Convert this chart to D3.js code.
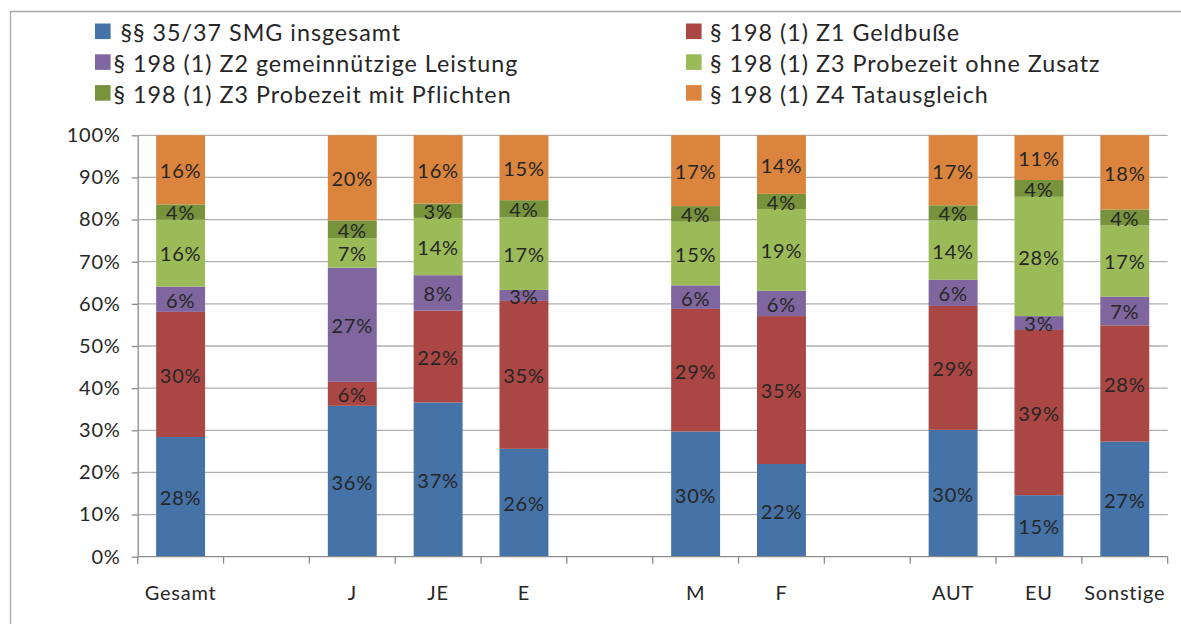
<!DOCTYPE html>
<html>
<head>
<meta charset="utf-8">
<script src="https://cdn.jsdelivr.net/npm/d3@7"></script>
<style>
  body { margin: 0; background: #fff; }
  svg text { font-family: Lato, "Open Sans", sans-serif; fill: #262626; }
</style>
</head>
<body>
<svg id="chart" width="1181" height="624"></svg>
<script>
// categories, empty strings are the gaps between the groups
var categories = ["Gesamt", "", "J", "JE", "E", "", "M", "F", "", "AUT", "EU", "Sonstige"];

var seriesNames = [
    " §§ 35/37 SMG insgesamt",
    "§ 198 (1) Z1 Geldbuße",
    "§ 198 (1) Z2 gemeinnützige Leistung",
    "§ 198 (1) Z3 Probezeit ohne Zusatz",
    "§ 198 (1) Z3 Probezeit mit Pflichten",
    "§ 198 (1) Z4 Tatausgleich"
];

// percent shares per category (null = gap)
var smg       = [28.4, null, 35.8, 36.6, 25.6, null, 29.7, 22.0, null, 30.1, 14.6, 27.3];
var geldbusse = [29.7, null,  5.7, 21.8, 35.1, null, 29.1, 35.1, null, 29.4, 39.2, 27.6];
var gemeinn   = [ 6.0, null, 27.1,  8.4,  2.6, null,  5.6,  6.0, null,  6.2,  3.3,  6.8];
var probeOhne = [15.9, null,  7.0, 13.6, 17.2, null, 15.1, 19.4, null, 14.1, 28.3, 16.9];
var probeMit  = [ 3.6, null,  4.2,  3.4,  4.1, null,  3.7,  3.6, null,  3.6,  4.0,  3.8];
var tataus    = [16.4, null, 20.2, 16.2, 15.4, null, 16.8, 13.9, null, 16.6, 10.6, 17.6];

var yTicks = [0, 0.1, 0.2, 0.3, 0.4, 0.5, 0.6, 0.7, 0.8, 0.9, 1];

var colors = ["#4572a7", "#aa4643", "#80669e", "#9bbb59", "#77933c", "#db843d"];

var allSeries = [smg, geldbusse, gemeinn, probeOhne, probeMit, tataus];

function drawChart()
{
    var svg = d3.select("#chart");

    var plotLeft = 137.7, plotRight = 1167.7, plotTop = 135.3, plotBottom = 556.7;

    // outer chart frame, cut off at the right and bottom edge
    svg.append("path")
        .attr("d", "M10.5,700 L10.5,11.5 L1300,11.5")
        .attr("fill", "none").attr("stroke", "#a6a6a6").attr("stroke-width", 1.3);

    var x = d3.scaleBand()
        .domain(d3.range(categories.length))
        .range([plotLeft, plotRight])
        .paddingInner(0.43)
        .paddingOuter(0.215);

    var y = d3.scaleLinear().domain([0, 1]).range([plotBottom, plotTop]);

    // gridlines
    svg.append("g").selectAll("line")
        .data(yTicks.slice(1))
        .join("line")
        .attr("x1", plotLeft).attr("x2", plotRight)
        .attr("y1", d => y(d)).attr("y2", d => y(d))
        .attr("stroke", "#b0b0b0").attr("stroke-width", 1.3);

    // stack
    var rows = categories.map((c, i) => {
        var r = { idx: i, gap: allSeries[0][i] === null };
        allSeries.forEach((s, k) => r["s" + k] = (s[i] || 0) / 100);
        return r;
    });

    var stack = d3.stack().keys(d3.range(allSeries.length).map(k => "s" + k));
    var stacked = stack(rows.filter(r => !r.gap));

    var layers = svg.append("g").selectAll("g")
        .data(stacked)
        .join("g")
        .attr("fill", (d, i) => colors[i]);

    layers.selectAll("rect")
        .data(d => d)
        .join("rect")
        .attr("x", d => x(d.data.idx))
        .attr("width", x.bandwidth())
        .attr("y", d => y(d[1]))
        .attr("height", d => y(d[0]) - y(d[1]));

    var fmt = d3.format(".0%");

    layers.selectAll("text")
        .data(d => d)
        .join("text")
        .attr("x", d => x(d.data.idx) + x.bandwidth() / 2)
        .attr("y", d => (y(d[0]) + y(d[1])) / 2)
        .attr("dy", "0.42em")
        .attr("text-anchor", "middle")
        .attr("font-size", 20)
        .attr("letter-spacing", 0.8)
        .text(d => fmt(Math.round((d[1] - d[0]) * 100) / 100));

    // y axis
    var yAxis = svg.append("g")
        .attr("transform", "translate(" + plotLeft + ",0)")
        .call(d3.axisLeft(y).tickValues(yTicks).tickFormat(fmt).tickSize(6).tickSizeOuter(0).tickPadding(11));
    yAxis.select(".domain").attr("stroke", "#8c8c8c").attr("stroke-width", 1.3);
    yAxis.selectAll(".tick line").attr("stroke", "#8c8c8c").attr("stroke-width", 1.3);
    yAxis.selectAll("text")
        .attr("font-size", 20).attr("letter-spacing", 0.8)
        .attr("fill", "#262626").style("font-family", "Lato, sans-serif");

    // x axis: line, ticks between the categories, labels centred
    var xg = svg.append("g");
    xg.append("line")
        .attr("x1", plotLeft).attr("x2", plotRight)
        .attr("y1", plotBottom).attr("y2", plotBottom)
        .attr("stroke", "#8c8c8c").attr("stroke-width", 1.3);

    xg.selectAll(".xt")
        .data(d3.range(categories.length + 1))
        .join("line")
        .attr("class", "xt")
        .attr("x1", i => plotLeft + i * x.step()).attr("x2", i => plotLeft + i * x.step())
        .attr("y1", plotBottom).attr("y2", plotBottom + 7)
        .attr("stroke", "#8c8c8c").attr("stroke-width", 1.3);

    xg.selectAll(".xl")
        .data(categories)
        .join("text")
        .attr("class", "xl")
        .attr("x", (d, i) => x(i) + x.bandwidth() / 2)
        .attr("y", 600)
        .attr("text-anchor", "middle")
        .attr("font-size", 20)
        .attr("letter-spacing", 0.8)
        .text(d => d);

    // legend, two columns, three rows
    var legend = svg.append("g").selectAll("g")
        .data(seriesNames)
        .join("g")
        .attr("transform", (d, i) => "translate(" + (i % 2 === 0 ? 95 : 686) + "," + (23.5 + Math.floor(i / 2) * 30.8) + ")");

    legend.append("rect")
        .attr("width", 15.6).attr("height", 15.6)
        .attr("fill", (d, i) => colors[i]);

    legend.append("text")
        .attr("x", (d, i) => i % 2 === 0 ? 18.5 : 24)
        .attr("y", 8)
        .attr("dy", "0.42em")
        .attr("font-size", 23.3)
        .attr("letter-spacing", 1.0)
        .style("white-space", "pre")
        .text(d => d);
}

drawChart();
</script>
</body>
</html>
